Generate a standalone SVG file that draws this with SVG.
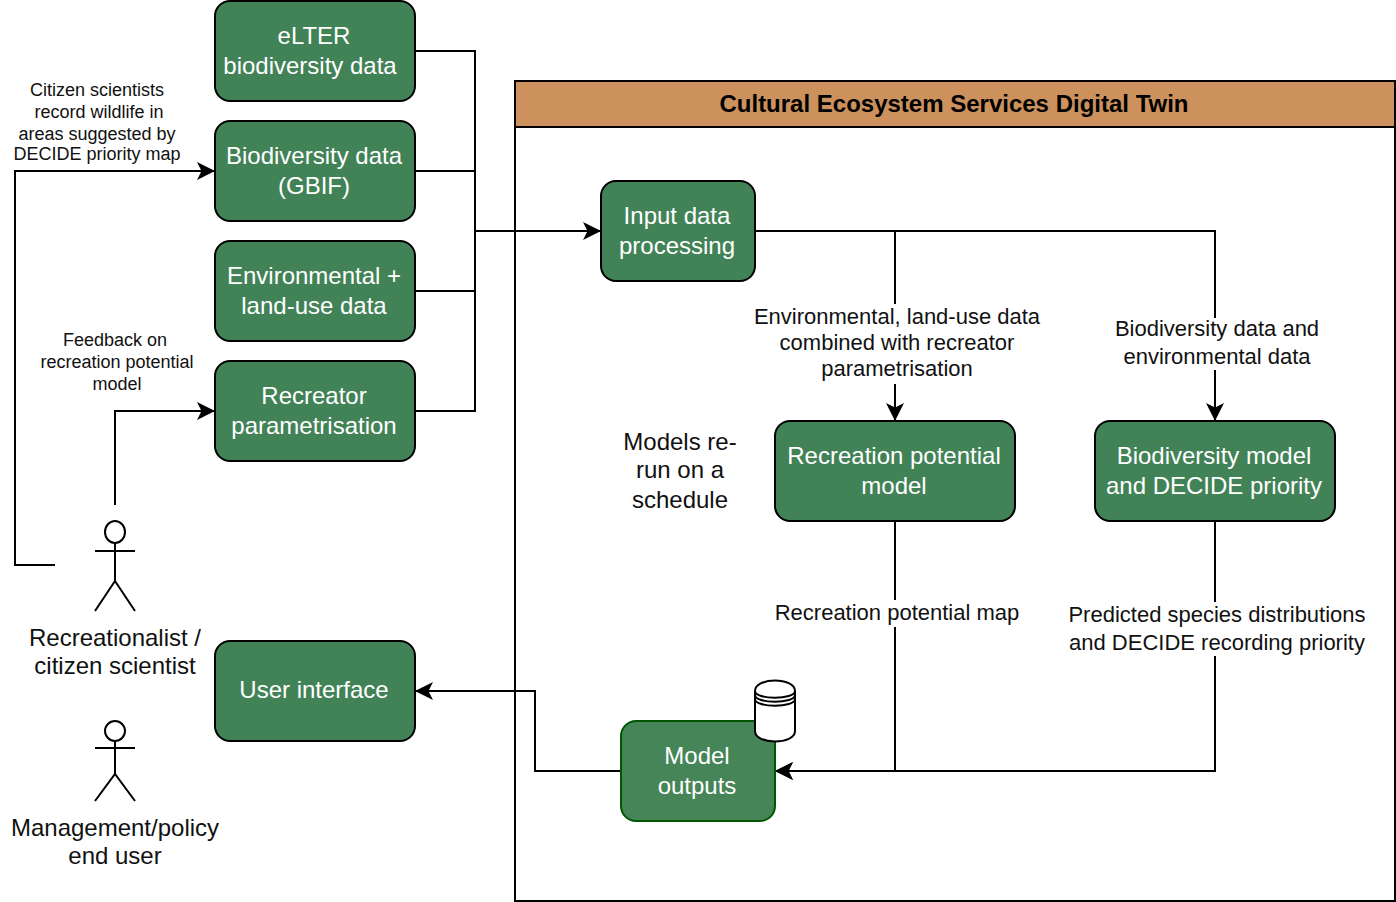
<svg xmlns="http://www.w3.org/2000/svg" width="1396" height="902" viewBox="0 0 1396 902">
<style>
text{font-family:"Liberation Sans",Arial,sans-serif;text-anchor:middle}
.n{fill:#428257;stroke:#000;stroke-width:2}
.g{fill:#458558;stroke:#005700;stroke-width:2}
.t{fill:#fff;font-size:24px}
.l{fill:#111;font-size:22px}
.m{fill:#111;font-size:24px}
.s{fill:#111;font-size:18px}
.c{fill:none;stroke:#000;stroke-width:2}
.b{fill:#fff}
.a{fill:#fff;stroke:#000;stroke-width:2}
</style>
<defs><marker id="ah" markerUnits="userSpaceOnUse" markerWidth="20" markerHeight="20" refX="18" refY="9" orient="auto"><path d="M0 0L18 9L0 18L4.500 9Z" fill="#000"/></marker></defs>
<g id="container"><rect x="515" y="81" width="880" height="820" fill="#fff" stroke="#000" stroke-width="2"/><rect x="515" y="81" width="880" height="46" fill="#cc915c" stroke="#000" stroke-width="2"/><text x="954" y="112" font-size="24" font-weight="bold" fill="#000">Cultural Ecosystem Services Digital Twin</text></g>
<g id="connectors">
<path class="c" d="M415 51H475V231"/><path class="c" d="M415 171H475"/><path class="c" d="M415 291H475"/><path class="c" d="M415 411H475V231"/>
<path class="c" d="M475 231H601" marker-end="url(#ah)"/>
<path class="c" d="M755 231H895V421" marker-end="url(#ah)"/>
<path class="c" d="M895 231H1215V421" marker-end="url(#ah)"/>
<path class="c" d="M895 521V771H775" marker-end="url(#ah)"/>
<path class="c" d="M1215 521V771H775" marker-end="url(#ah)"/>
<path class="c" d="M621 771H535V691H415" marker-end="url(#ah)"/>
<path class="c" d="M55 565H15V171H215" marker-end="url(#ah)"/>
<path class="c" d="M115 505V411H215" marker-end="url(#ah)"/>
</g>
<g id="edge-labels">
<rect class="b" x="752" y="304" width="290" height="80"/><text class="l" x="897" y="324">Environmental, land-use data</text><text class="l" x="897" y="350">combined with recreator</text><text class="l" x="897" y="376">parametrisation</text>
<rect class="b" x="1112" y="318" width="208" height="52"/><text class="l" x="1217" y="336">Biodiversity data and</text><text class="l" x="1217" y="364">environmental data</text>
<rect class="b" x="772" y="600" width="250" height="27"/><text class="l" x="897" y="620">Recreation potential map</text>
<rect class="b" x="1066" y="602" width="302" height="54"/><text class="l" x="1217" y="622">Predicted species distributions</text><text class="l" x="1217" y="650">and DECIDE recording priority</text>
<text class="s" x="97" y="96">Citizen scientists</text><text class="s" x="99" y="118">record wildlife in</text><text class="s" x="97" y="140">areas suggested by</text><text class="s" x="97" y="160">DECIDE priority map</text>
<text class="s" x="115" y="346">Feedback on</text><text class="s" x="117" y="368">recreation potential</text><text class="s" x="117" y="390">model</text>
<text class="m" x="680" y="450">Models re-</text><text class="m" x="680" y="478">run on a</text><text class="m" x="680" y="508">schedule</text>
</g>
<g id="elter"><rect class="n" x="215" y="1" width="200" height="100" rx="15"/><text class="t" x="314" y="44">eLTER</text><text class="t" x="310" y="74">biodiversity data</text></g>
<g id="gbif"><rect class="n" x="215" y="121" width="200" height="100" rx="15"/><text class="t" x="314" y="164">Biodiversity data</text><text class="t" x="314" y="194">(GBIF)</text></g>
<g id="env"><rect class="n" x="215" y="241" width="200" height="100" rx="15"/><text class="t" x="314" y="284">Environmental +</text><text class="t" x="314" y="314">land-use data</text></g>
<g id="recreator"><rect class="n" x="215" y="361" width="200" height="100" rx="15"/><text class="t" x="314" y="404">Recreator</text><text class="t" x="314" y="434">parametrisation</text></g>
<g id="ui"><rect class="n" x="215" y="641" width="200" height="100" rx="15"/><text class="t" x="314" y="698">User interface</text></g>
<g id="input"><rect class="n" x="601" y="181" width="154" height="100" rx="15"/><text class="t" x="677" y="224">Input data</text><text class="t" x="677" y="254">processing</text></g>
<g id="recmodel"><rect class="n" x="775" y="421" width="240" height="100" rx="15"/><text class="t" x="894" y="464">Recreation potential</text><text class="t" x="894" y="494">model</text></g>
<g id="biomodel"><rect class="n" x="1095" y="421" width="240" height="100" rx="15"/><text class="t" x="1214" y="464">Biodiversity model</text><text class="t" x="1214" y="494">and DECIDE priority</text></g>
<g id="outputs"><rect class="g" x="621" y="721" width="154" height="100" rx="15"/><text class="t" x="697" y="764">Model</text><text class="t" x="697" y="794">outputs</text></g>
<g id="db"><path class="a" d="M755 691C755 677 795 677 795 691V731C795 745 755 745 755 731Z"/><path class="c" d="M755 691C755 700 795 700 795 691M755 695C755 704 795 704 795 695M755 699C755 708 795 708 795 699"/></g>
<g id="actor1"><ellipse class="a" cx="115" cy="532" rx="10" ry="11"/><path class="c" d="M115 543V581M95 551H135M95 611L115 581L135 611"/><text class="m" x="115" y="646">Recreationalist /</text><text class="m" x="115" y="674">citizen scientist</text></g>
<g id="actor2"><circle class="a" cx="115" cy="731" r="10"/><path class="c" d="M115 741V774M95 748H135M95 801L115 774L135 801"/><text class="m" x="115" y="836">Management/policy</text><text class="m" x="115" y="864">end user</text></g>
</svg>
